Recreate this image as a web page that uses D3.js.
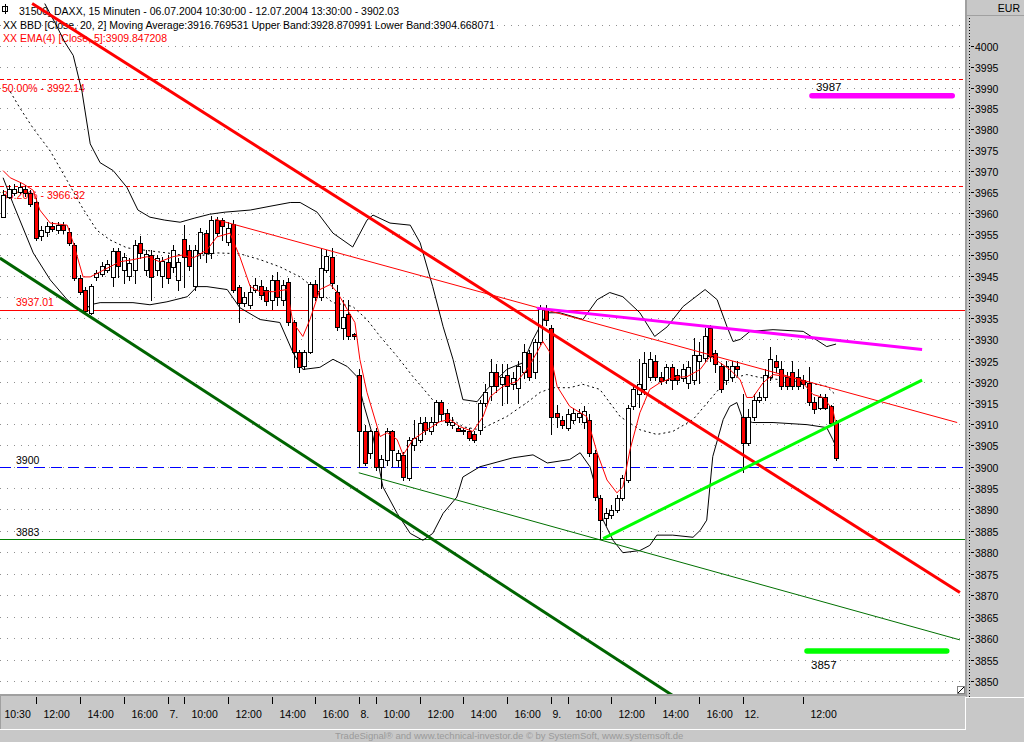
<!DOCTYPE html>
<html><head><meta charset="utf-8">
<script src="https://cdn.jsdelivr.net/npm/d3@7"></script>
<style>html,body{margin:0;padding:0;background:#c8c8c8;overflow:hidden}svg{display:block;font-family:"Liberation Sans",Arial,sans-serif}</style>
</head><body><svg id="c" width="1024" height="742"></svg>
<script>
// ---------- DATA ----------
const openP = [3959.0,3963.7,3964.7,3965.1,3965.8,3964.7,3962.5,3954.5,3955.5,3956.9,3955.9,3957.1,3955.5,3952.4,3944.6,3941.8,3936.3,3944.8,3945.5,3946.5,3944.8,3951.0,3946.5,3945.1,3946.5,3952.9,3946.5,3950.0,3946.5,3945.1,
3948.4,3947.2,3944.1,3953.8,3951.2,3942.7,3950.5,3955.2,3950.5,3958.3,3958.3,3953.1,3957.3,3942.5,3938.5,3938.2,3941.8,3942.7,3941.8,3939.4,3944.1,3939.4,3943.6,3934.2,3927.1,3923.6,3927.1,3943.2,3940.1,3946.5,3949.6,3941.3,3932.8,3935.9,3931.2,
3921.7,3908.3,3903.3,3908.3,3900.0,3901.7,3908.3,3901.7,3902.8,3897.4,3905.2,3906.4,3910.6,3908.3,3910.6,3915.3,3912.7,3909.9,3909.2,3908.3,3908.3,3907.6,3908.7,3915.1,3918.9,3922.2,3919.4,3921.7,3919.4,3918.6,3922.4,3926.9,3922.2,3929.5,3937.3,
3932.8,3912.7,3911.1,3909.2,3911.1,3911.6,3910.6,3911.1,3903.3,3892.7,3888.0,3888.7,3889.9,3892.7,3896.9,3914.2,3917.0,3918.2,3921.2,3924.8,3921.2,3920.5,3923.4,3921.7,3921.0,3919.8,3920.5,3924.8,3925.7,3932.8,3926.9,3923.6,3920.5,3921.2,3923.8,
3911.8,3905.7,3911.6,3915.8,3916.3,3921.2,3924.8,3922.9,3921.2,3922.4,3921.2,3920.5,3919.8,3915.3,3913.9,3916.3,3914.2,3910.4];
const highP = [3965.4,3966.6,3966.8,3967.3,3966.6,3965.4,3963.5,3956.9,3957.8,3957.8,3957.8,3957.8,3956.4,3952.9,3945.3,3942.5,3943.2,3946.5,3948.4,3948.9,3951.7,3951.7,3950.5,3949.3,3953.6,3954.5,3951.2,3951.2,3950.0,3949.6,
3950.0,3952.4,3949.3,3957.1,3952.4,3952.4,3956.4,3955.9,3959.2,3959.0,3958.8,3957.8,3958.3,3943.0,3941.3,3943.0,3944.6,3944.1,3942.5,3945.3,3946.0,3944.1,3944.6,3934.7,3927.6,3927.6,3943.7,3944.1,3951.7,3951.2,3951.7,3943.0,3939.4,3939.4,3931.6,
3922.9,3909.9,3908.7,3909.2,3902.8,3909.0,3908.7,3904.0,3903.5,3907.1,3911.1,3911.6,3911.6,3911.6,3915.8,3915.8,3913.5,3911.6,3909.9,3909.2,3909.2,3908.3,3915.8,3919.4,3925.3,3924.1,3924.1,3924.1,3922.4,3924.8,3928.8,3927.6,3930.0,3938.2,3938.2,
3933.5,3914.6,3912.0,3913.5,3913.9,3913.5,3914.4,3912.3,3904.0,3893.4,3890.3,3891.0,3893.4,3898.1,3914.6,3919.4,3925.3,3927.1,3927.1,3926.4,3922.4,3924.1,3924.1,3922.9,3924.1,3924.8,3930.4,3929.5,3932.8,3933.3,3927.6,3924.5,3924.8,3924.8,3924.8,
3917.0,3913.5,3917.0,3917.5,3922.9,3928.1,3926.4,3924.8,3922.4,3924.8,3922.9,3921.7,3923.4,3916.3,3917.0,3917.0,3914.6,3911.1];
const lowP = [3959.0,3963.5,3964.2,3964.7,3964.0,3961.6,3953.6,3953.6,3954.5,3955.7,3955.2,3955.2,3952.4,3944.1,3940.8,3935.9,3935.9,3944.1,3945.1,3946.0,3942.7,3944.8,3943.4,3944.1,3943.4,3949.3,3945.3,3939.4,3945.3,3942.5,
3943.4,3946.0,3941.8,3942.5,3946.5,3941.8,3949.3,3948.4,3949.3,3954.5,3953.6,3952.4,3941.3,3934.0,3938.0,3937.5,3941.3,3939.6,3938.2,3937.1,3938.2,3938.2,3933.3,3923.4,3922.4,3922.9,3926.7,3939.4,3939.4,3946.0,3942.2,3932.3,3930.0,3930.0,3930.2,
3900.0,3900.5,3902.1,3899.3,3895.0,3900.5,3900.2,3900.2,3896.9,3896.9,3904.0,3905.9,3907.6,3907.6,3909.9,3911.1,3909.9,3909.2,3908.3,3907.8,3906.4,3905.9,3907.6,3914.4,3915.8,3917.7,3914.6,3915.1,3918.2,3915.1,3921.0,3920.5,3921.0,3928.8,3933.5,
3907.6,3909.4,3909.2,3908.7,3910.4,3910.6,3909.2,3902.6,3892.2,3883.2,3886.3,3888.0,3889.4,3892.2,3896.5,3913.5,3914.0,3917.0,3920.5,3920.5,3919.4,3919.8,3918.2,3919.4,3920.1,3918.6,3919.4,3919.8,3924.8,3924.8,3922.4,3917.5,3919.4,3920.1,3921.7,
3898.8,3905.2,3911.1,3915.3,3915.8,3920.5,3922.4,3918.2,3918.2,3918.2,3918.2,3918.6,3914.6,3912.7,3913.5,3913.5,3909.9,3901.7];
const closeP = [3964.2,3965.6,3965.8,3966.3,3964.7,3962.1,3954.0,3955.9,3956.9,3956.2,3957.1,3955.9,3952.9,3944.6,3941.3,3936.8,3942.7,3945.8,3947.4,3947.9,3951.0,3947.4,3949.6,3948.1,3952.4,3950.5,3950.2,3944.8,3949.3,3948.6,
3944.6,3951.2,3948.4,3949.6,3947.4,3951.2,3955.5,3950.5,3958.3,3955.2,3956.9,3956.4,3941.8,3938.7,3940.1,3941.3,3943.0,3940.4,3939.0,3944.1,3940.1,3943.0,3934.0,3927.1,3923.4,3927.1,3943.2,3940.1,3946.9,3949.8,3943.4,3933.0,3935.4,3930.7,3930.7,
3908.3,3900.9,3908.3,3900.0,3901.9,3908.3,3904.0,3903.3,3897.6,3906.4,3906.8,3910.4,3908.7,3910.6,3915.3,3912.3,3910.6,3910.6,3908.5,3908.7,3906.8,3906.4,3915.1,3917.5,3922.2,3918.9,3921.2,3918.9,3921.0,3923.6,3927.1,3921.2,3929.3,3937.1,3934.7,
3911.6,3911.8,3909.9,3912.3,3912.7,3912.7,3913.0,3903.3,3892.9,3887.5,3889.1,3889.9,3892.7,3897.4,3913.9,3918.2,3919.4,3924.5,3925.3,3921.2,3920.1,3923.4,3920.5,3920.5,3922.9,3923.4,3926.4,3926.4,3930.7,3926.0,3924.1,3918.2,3923.6,3923.6,3922.9,
3905.7,3911.8,3915.8,3916.5,3921.7,3925.3,3923.4,3918.9,3918.9,3918.9,3918.9,3919.4,3915.3,3913.5,3916.3,3913.9,3910.4,3902.03];

// Bollinger bands (at bar positions)
const bbUpperIdx = [7.6,9.5,11.3,12.8,14.4,15.9,17.7,20.1,22.6,24.6,26.8,29.5,32.3,35.0,37.7,40.5,45.1,48.7,52.4,54.2,57.3,60.2,63.8,66.4,67.5,70.6,74.3,76.1,78.4,80.3,82.1,83.9,86.5,88.3,91.9,94.9,96.7,99.3,101.6,105.8,108.4,110.7,113.1,116.2,118.9,121.2,124.1,128.1,130.3,132.1,133.2,134.5,136.3,140.5,146.0,147.8,150.3,152.0];
const bbUpperVal = [4010.2,4005.5,4000.8,3997.7,3989.0,3976.5,3972.0,3970.1,3966.1,3960.7,3959.0,3958.3,3957.8,3958.8,3959.7,3960.2,3960.7,3961.6,3962.5,3962.5,3960.2,3955.2,3951.9,3958.3,3959.5,3957.6,3957.1,3952.9,3942.5,3933.0,3925.3,3915.8,3915.3,3918.2,3922.9,3924.5,3930.0,3936.3,3936.3,3934.7,3939.4,3941.1,3940.1,3936.3,3930.7,3933.0,3937.8,3941.8,3939.4,3933.0,3929.5,3930.0,3931.9,3932.3,3931.9,3930.4,3928.3,3928.9];
const bbMidIdx = [1.3,3.1,5.5,8.6,11.7,14.4,17.1,19.5,22.6,25.5,29.9,34.7,39.0,43.2,46.9,50.5,54.2,57.8,60.2,63.8,66.4,68.8,71.9,74.8,77.9,80.3,83.9,87.0,91.9,95.6,98.0,100.3,103.4,105.8,108.9,112.6,116.2,119.3,122.2,125.9,129.0,132.1,135.7,138.1,141.8,146.7,150.3,152.0];
const bbMidVal = [3989.0,3985.0,3980.2,3974.8,3967.7,3961.4,3955.9,3953.6,3951.7,3951.2,3950.5,3949.6,3950.5,3950.3,3948.9,3947.2,3944.8,3941.1,3938.7,3937.8,3934.7,3930.7,3926.0,3921.2,3916.5,3912.7,3909.4,3908.7,3911.8,3915.1,3917.5,3918.6,3918.6,3919.4,3918.2,3911.8,3908.7,3907.6,3908.3,3911.1,3915.8,3920.5,3921.7,3921.0,3920.5,3919.8,3918.9,3916.8];
const bbLowerIdx = [0,1.8,5.5,8.6,11.7,14.6,15.9,17.7,23.7,26.8,29.9,33.6,35.4,37.2,40.9,43.2,46.9,50.5,52.9,54.7,57.8,60.2,62.8,64.6,65.7,67.5,69.3,71.9,74.3,76.6,78.4,80.3,82.8,83.9,87.0,93.0,96.7,99.3,103.4,105.3,107.1,108.4,109.5,111.3,113.1,116.2,118.0,119.3,122.2,125.9,127.2,128.4,129.5,131.4,132.6,133.9,135.0,136.8,140.5,146.7,150.3,151.4,152.0];
const bbLowerVal = [3968.4,3962.3,3950.5,3944.1,3939.4,3936.3,3938.2,3938.7,3938.7,3938.2,3938.9,3940.1,3942.5,3942.5,3941.8,3937.5,3934.7,3934.0,3926.9,3922.9,3923.4,3925.3,3923.6,3921.2,3915.1,3907.1,3895.3,3889.1,3884.4,3882.8,3884.4,3889.1,3892.9,3897.6,3900.0,3902.1,3902.8,3900.9,3901.7,3903.3,3900.0,3893.9,3887.5,3882.8,3879.9,3880.4,3881.6,3884.0,3884.0,3883.5,3885.1,3887.5,3902.4,3911.1,3914.2,3915.1,3911.1,3910.4,3910.4,3909.9,3909.2,3906.4,3904.7];
// EMA(4)
const emaIdx = [0,1.3,3.6,5.5,6.7,8.6,11.7,12.8,14.6,15.9,17.7,19.5,21.3,23.7,26.3,28.6,31.0,32.8,34.7,37.2,39.0,41.4,43.2,45.1,46.9,49.3,51.8,52.9,54.7,56.0,57.8,59.7,61.0,62.8,64.2,65.1,66.4,68.8,70.1,71.9,73.0,74.8,77.4,79.7,81.5,83.4,85.7,87.6,88.9,91.2,93.8,95.6,97.4,98.5,99.8,101.1,103.4,106.5,108.4,110.2,112.0,113.1,114.4,116.2,118.0,119.9,122.2,124.8,127.2,129.0,130.8,132.6,134.5,135.7,136.8,138.7,140.5,143.0,145.4,147.8,149.6,151.4,152.0];
const emaVal = [3970.1,3968.4,3967.0,3965.4,3960.7,3957.6,3957.1,3952.9,3944.8,3944.8,3946.0,3947.2,3948.4,3948.9,3949.6,3948.4,3949.6,3950.0,3949.3,3951.2,3954.3,3955.2,3949.6,3942.5,3941.3,3941.3,3941.8,3934.0,3930.7,3934.7,3941.8,3943.0,3941.1,3937.1,3934.0,3925.3,3917.5,3907.1,3908.0,3906.4,3902.8,3906.4,3908.7,3910.6,3911.1,3909.4,3908.3,3911.8,3916.5,3918.9,3920.1,3922.9,3926.9,3929.5,3926.9,3918.9,3914.2,3911.8,3903.3,3896.9,3893.9,3895.3,3904.0,3912.7,3918.2,3919.8,3921.0,3921.2,3922.9,3926.0,3924.5,3922.9,3920.5,3916.3,3916.3,3919.8,3921.7,3921.2,3920.5,3917.0,3916.3,3913.5,3909.85];

// axis
const priceTicks = d3.range(3850, 4001, 5);
const gridLevels = d3.range(3850, 4006, 5);
const tickIdx = [0,6,14,22,30,33,41,49,57,65,68,76,84,92,100,103,111,119,127,135,146];
const tickLabels = ["10:30","12:00","14:00","16:00","7.","10:00","12:00","14:00","16:00","8.","10:00","12:00","14:00","16:00","9.","10:00","12:00","14:00","16:00","12.","12:00"];

// drawn tools (bar index, price)
const trendThickRed = [[5.3,4010.2],[174.6,3870.6]];
const trendThinRed = [[38.7,3958.5],[174.1,3910.4]];
const trendMagenta = [[97.4,3937.4],[167.7,3927.6]];
const trendLime = [[109.5,3883.2],[167.7,3920.4]];
const trendDarkGreen = [[-0.6,3949.3],[122.2,3846.7]];
const trendThinGreen = [[64.9,3898.6],[174.6,3859.6]];
const fibLevels = [3992.14, 3966.32];
const fibLabels = ["50.00% - 3992.14","38.20% - 3966.32"];
const levelRed = 3937.01, levelBlue = 3900, levelGreen = 3883;
const targetUp = {from:147.6,to:173.2,price:3988,label:"3987"};
const targetDown = {from:146.7,to:172.2,price:3857,label:"3857"};
const header1 = "31500_DAXX, 15 Minuten - 06.07.2004 10:30:00 - 12.07.2004 13:30:00 - 3902.03";
const header2 = "XX BBD [Close, 20, 2] Moving Average:3916.769531 Upper Band:3928.870991 Lower Band:3904.668071";
const header3 = "XX EMA(4) [Close, 5]:3909.847208";
const footer = "TradeSignal\u00AE and www.technical-investor.de \u00A9 by  SystemSoft, www.systemsoft.de";

// ---------- DRAW ----------
const FS = "10.5px";
const svg = d3.select("#c");
const PW = 965, PH = 694;
const x = d3.scaleLinear().domain([0,152]).range([3.1, 836.06]);
const y = d3.scaleLog().domain([3850,3995]).range([681.3,66.7]);

svg.append("rect").attr("width",1024).attr("height",742).attr("fill","#c8c8c8");
svg.append("rect").attr("x",0).attr("y",0).attr("width",PW).attr("height",PH).attr("fill","#fff");
svg.append("defs").append("clipPath").attr("id","clip").append("rect").attr("x",0).attr("y",0).attr("width",PW).attr("height",PH);
const g = svg.append("g").attr("clip-path","url(#clip)");

// grid
g.selectAll(".grid").data(gridLevels).join("line")
  .attr("x1",0).attr("x2",PW).attr("y1",d=>Math.round(y(d))+0.5).attr("y2",d=>Math.round(y(d))+0.5)
  .attr("stroke","#909090").attr("stroke-dasharray","1,6");

// header text
const ht = g.append("g").attr("font-size",FS);
ht.append("rect").attr("x",2.5).attr("y",6.5).attr("width",5).attr("height",5).attr("fill","none").attr("stroke","#000");
ht.append("line").attr("x1",5.5).attr("x2",5.5).attr("y1",4).attr("y2",14).attr("stroke","#000");
ht.append("text").attr("x",19).attr("y",15).attr("fill","#000").text(header1);
ht.append("text").attr("x",3).attr("y",28.5).attr("fill","#000").text(header2);
ht.append("text").attr("x",3).attr("y",42).attr("fill","#f00").text(header3);

// levels
fibLevels.forEach((v,i)=>{
  const yy = Math.round(y(v))+0.5;
  g.append("line").attr("x1",0).attr("x2",PW).attr("y1",yy).attr("y2",yy).attr("stroke","#f00").attr("stroke-dasharray","4,3");
  g.append("text").attr("x",2).attr("y",yy+12.5).attr("font-size",FS).attr("fill","#f00").text(fibLabels[i]);
});
function hline(v,color,dash){
  const yy = Math.round(y(v))+0.5;
  const l = g.append("line").attr("x1",0).attr("x2",PW).attr("y1",yy).attr("y2",yy).attr("stroke",color);
  if(dash) l.attr("stroke-dasharray",dash);
  return yy;
}
const yR = hline(levelRed,"#f00");
const yB = hline(levelBlue,"#0000ff","11,6");
const yG = hline(levelGreen,"#008000");
g.append("text").attr("x",16).attr("y",yR-4.5).attr("font-size",FS).attr("fill","#f00").text("3937.01");
g.append("text").attr("x",16).attr("y",yB-4).attr("font-size",FS).attr("fill","#000").text("3900");
g.append("text").attr("x",16).attr("y",yG-3.5).attr("font-size",FS).attr("fill","#000").text("3883");

// bands
const pl = (idx,val)=>d3.line()(idx.map((d,i)=>[x(d),y(val[i])]));
g.append("path").attr("d",pl(bbUpperIdx,bbUpperVal)).attr("fill","none").attr("stroke","#000");
g.append("path").attr("d",pl(bbLowerIdx,bbLowerVal)).attr("fill","none").attr("stroke","#000");
g.append("path").attr("d",pl(bbMidIdx,bbMidVal)).attr("fill","none").attr("stroke","#000").attr("stroke-dasharray","2,3");

// candles
const cg = g.append("g");
openP.forEach((o,i)=>{
  const c = closeP[i], h = highP[i], l = lowP[i];
  const cx = Math.round(x(i));
  cg.append("line").attr("x1",cx+0.5).attr("x2",cx+0.5).attr("y1",Math.round(y(h))).attr("y2",Math.round(y(l))+1).attr("stroke","#000");
  const yt = Math.round(y(Math.max(o,c))), yb = Math.round(y(Math.min(o,c)));
  cg.append("rect").attr("x",cx-1.5).attr("y",yt+0.5).attr("width",4).attr("height",Math.max(yb-yt,1))
    .attr("fill", c>=o ? "#fff" : "#f00").attr("stroke","#000");
});
// EMA
g.append("path").attr("d",pl(emaIdx,emaVal)).attr("fill","none").attr("stroke","#f00");

// trend lines
function seg(p,color,w){
  g.append("line").attr("x1",x(p[0][0])).attr("y1",y(p[0][1])).attr("x2",x(p[1][0])).attr("y2",y(p[1][1]))
   .attr("stroke",color).attr("stroke-width",w);
}
seg(trendThinRed,"#f00",1);
seg(trendThinGreen,"#007000",1);
seg(trendDarkGreen,"#006400",3);
seg(trendThickRed,"#f00",3);
seg(trendMagenta,"#ff00ff",3);
seg(trendLime,"#00ff00",3);
[[targetUp,"#ff00ff"],[targetDown,"#00ff00"]].forEach(([t,col])=>{
  g.append("line").attr("x1",x(t.from)).attr("x2",x(t.to)).attr("y1",y(t.price)).attr("y2",y(t.price))
   .attr("stroke",col).attr("stroke-width",5.5).attr("stroke-linecap","round");
});
g.append("text").attr("x",x(targetUp.from)+4).attr("y",y(targetUp.price)-5).attr("font-size","11.5px").text(targetUp.label);
g.append("text").attr("x",x(targetDown.from)+4).attr("y",y(targetDown.price)+17.5).attr("font-size","11.5px").text(targetDown.label);

// corner icon
svg.append("rect").attr("x",957.5).attr("y",686.5).attr("width",7).attr("height",7).attr("fill","#fff").attr("stroke","#808080");
svg.append("line").attr("x1",958).attr("y1",693).attr("x2",964).attr("y2",687).attr("stroke","#000");

// right axis panel
svg.append("rect").attr("x",965).attr("y",0).attr("width",59).attr("height",697).attr("fill","#c8c8c8");
svg.append("rect").attr("x",965).attr("y",0).attr("width",2).attr("height",697).attr("fill","#a0a0a0");
svg.append("line").attr("x1",967).attr("x2",1024).attr("y1",15.5).attr("y2",15.5).attr("stroke","#a0a0a0");
svg.append("text").attr("x",1020).attr("y",12).attr("text-anchor","end").attr("font-size",FS).text("EUR");
svg.append("line").attr("x1",969.5).attr("x2",969.5).attr("y1",18).attr("y2",697).attr("stroke","#000").attr("stroke-dasharray","1,2");
const ax = svg.append("g").attr("font-size",FS);
priceTicks.forEach(v=>{
  const yy = Math.round(y(v))+0.5;
  ax.append("line").attr("x1",971).attr("x2",974).attr("y1",yy).attr("y2",yy).attr("stroke","#000");
  ax.append("text").attr("x",975).attr("y",yy+4).text(v);
});
svg.append("line").attr("x1",966).attr("x2",1024).attr("y1",697.5).attr("y2",697.5).attr("stroke","#fff");

// time axis panel
svg.append("rect").attr("x",0).attr("y",PH).attr("width",PW+1).attr("height",35).attr("fill","#c8c8c8");
svg.append("rect").attr("x",0).attr("y",PH).attr("width",PW+1).attr("height",2).attr("fill","#a0a0a0");
svg.append("rect").attr("x",0).attr("y",PH).attr("width",1).attr("height",35).attr("fill","#a0a0a0");
svg.append("line").attr("x1",0).attr("x2",966).attr("y1",729.5).attr("y2",729.5).attr("stroke","#fff");
svg.append("line").attr("x1",965.5).attr("x2",965.5).attr("y1",697).attr("y2",730).attr("stroke","#fff");
const tx = svg.append("g").attr("font-size",FS);
tickIdx.forEach((t,i)=>{
  const xx = Math.round(x(t))+0.5;
  if(i>0) tx.append("line").attr("x1",xx).attr("x2",xx).attr("y1",697).attr("y2",704).attr("stroke","#000");
  const lab = tickLabels[i];
  const off = (lab.indexOf(":")>=0 && i>0) ? 7 : 1;
  tx.append("text").attr("x",xx+off).attr("y",717.5).text(lab);
});
svg.append("text").attr("x",335).attr("y",739).attr("font-size","9.5px").attr("fill","#9a9a9a").text(footer);
</script></body></html>
